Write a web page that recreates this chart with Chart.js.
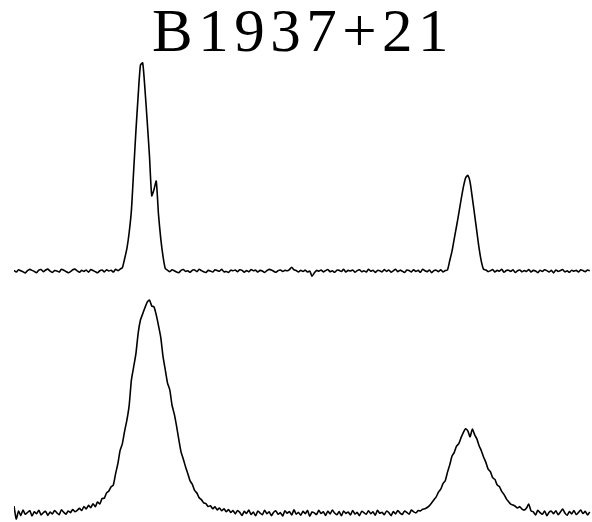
<!DOCTYPE html>
<html>
<head>
<meta charset="utf-8">
<script src="https://cdn.jsdelivr.net/npm/chart.js"></script>
<style>
  html, body { margin: 0; padding: 0; background: #fff; }
  #page { position: relative; width: 592px; height: 522px; overflow: hidden; }
  #title {
    position: absolute; left: 152px; top: 0; white-space: nowrap;
    font-family: "Liberation Serif", "DejaVu Serif", serif;
    font-size: 61px; line-height: 1; letter-spacing: 5.5px; color: #000;
  }
  .panel { position: absolute; left: 14px; width: 578px; }
</style>
</head>
<body>
<div id="page">
  <div id="title">B1937+21</div>
  <div class="panel" style="top:50px;height:230px"><canvas id="topChart" width="578" height="230"></canvas></div>
  <div class="panel" style="top:290px;height:232px"><canvas id="bottomChart" width="578" height="232"></canvas></div>
</div>
<script>
// pulse profiles, 256 phase bins each, peak normalised to ~100
const topProfile = [
  0.3, -0.5, 0.6, 0.1, -0.4, -0.9, 0.2, 0.8, 0.3, -0.2,
  -0.8, 0.4, 0.7, -0.3, 0.5, 0.9, -0.1, -0.7, 0.2, 0.0,
  -0.5, 0.8, 0.4, -0.2, -0.8, -0.3, 0.6, 0.9, 0.1, -0.6,
  0.3, -0.2, 0.5, -0.6, 0.7, 0.2, -0.3, -0.8, 0.1, 0.5,
  -0.4, 0.6, 0.0, 0.4, -0.5, 0.8, 0.2, 0.9,
  1.6, 5.9, 10.7, 18.3, 29, 48, 67, 84, 98.5, 99.5,
  87, 71.5, 55, 36, 39, 43, 27, 15.5, 7, 1.2,
  0.4, -0.3, 0.6, 0.1, -0.5, -0.8, 0.3, 0.7, -0.2, 0.1,
  -0.6, 0.4, 0.5, -0.3, 0.8, 0.2, -0.4, -0.7, 0.3, 0.0,
  -0.5, 0.6, 0.2, -0.1, 0.8, -0.4, -0.2, -0.7, 0.4, 0.1,
  0.5, -0.3, 0.6, 0.3, -0.6, 0.2, -0.4, 0.7, 0.1, 0.4,
  -0.5, 0.3, 0.0, -0.7, 0.2, 0.8, 0.5, -0.1, -0.6, 0.2,
  0.5, -0.2, 0.3, 0.1, 0.7, 1.8, 0.6, 0.2, -0.4, 0.3,
  -0.2, 0.4, -0.5, 0.0, -2.5, -0.9, 0.3, -0.1, 0.5, -0.4,
  0.2, 0.7, -0.3, 0.1, -0.6, 0.4, 0.3, -0.2, 0.8, -0.5,
  0.3, 0.0, 0.5, -0.6, 0.2, 0.6, -0.3, 0.1, -0.5, 0.8,
  -0.1, 0.4, -0.7, 0.3, 0.1, -0.4, 0.7, -0.2, 0.5, -0.6,
  0.1, 0.8, -0.3, 0.4, -0.1, -0.7, 0.5, 0.2, -0.4, 0.6,
  -0.2, 0.3, -0.6, 0.8, 0.1, -0.3, 0.5, -0.8, 0.2, 0.4,
  -0.3, 0.6, -0.4, 0.2,
  0.5, 5, 9.5, 15.5, 21.4, 27.6, 34, 40, 44.5, 45.7,
  42.5, 35, 27, 18.8, 10.8, 4.5, 0.8,
  0.5, -0.3, 0.1, 0.7, -0.5, 0.3, -0.1, 0.8, -0.6, 0.2,
  0.4, -0.2, 0.6, -0.7, 0.1, 0.5, -0.4, 0.2, -0.2, 0.7,
  -0.5, 0.3, 0.0, -0.8, 0.4, -0.2, 0.6, 0.2, -0.5, 0.3,
  -0.9, 0.5, -0.2, 0.2, 0.7, -0.4, 0.1, -0.6, 0.4, -0.1,
  0.3, -0.5, 0.6, 0.2, -0.3, 0.5, 0.1
];

const bottomProfile = [
  3.3, -2.8, 0.9, -1.2, 1.4, -0.6, 0.3, 1.1, -1.4, 0.6,
  -0.3, 1.3, -0.9, 0.2, 0.8, -1.1, 0.5, -0.4, 1.2, 0.1,
  -0.8, 1.5, 0.4, -0.5, 1.0, 0.2, 1.7, 0.6, 1.3,
  2.2, 1.2, 3.1, 1.9, 3.6, 2.5, 4.4, 3.0, 5.2, 4.3,
  6.8, 7.0, 9.5, 10.4, 12.3, 13.2, 18.5, 23.2, 29.4, 32.6,
  38.5, 43.6, 50.4, 62.5, 68.6, 74.8, 84.5, 90.6, 93.5, 96.4,
  99.0, 100, 97.2, 96.8, 93.0, 88.0, 82.5, 73.5, 67.2, 61.0,
  57.8, 50.6, 46.4, 40.8, 34.5, 28.6, 25.3, 21.6, 18.4, 15.1,
  13.5, 10.6, 9.4, 7.2, 6.3, 4.8, 4.4, 3.1, 3.4, 2.0,
  2.9, 1.5, 2.4, 1.1, 2.0, 0.6, 1.6, 0.3, 1.2,
  -0.4, 1.2, 0.3, -1.1, 0.8, -0.2, 1.4, -0.7, 0.5, -1.3,
  0.9, 0.0, -0.8, 1.3, -0.3, 0.6, -1.2, 0.4, 1.0, -0.6,
  0.2, -1.4, 1.1, -0.1, 0.7, -0.9, 1.5, -0.5, 0.3, -1.0,
  0.8, -0.3, 1.2, -1.5, 0.5, 0.1, -0.7, 1.3, -0.2, 0.6,
  -1.1, 0.9, -0.4, 1.4, 0.0, -0.8, 0.7, -1.3, 1.0, -0.2,
  0.5, -0.9, 1.2, -0.5, 0.3, -1.2, 0.8, 0.2, -0.6, 1.1,
  -0.3, 0.6, -1.0, 1.3, -0.1, 0.4, -0.8, 0.9, 0.2, -1.2,
  0.7, -0.4, 1.2, 0.0, -0.7, 1.0, 0.3, -0.5, 1.4, 0.6,
  0.1, 1.2,
  1.0, 1.8, 2.0, 2.6, 3.5, 4.8, 6.2, 7.6, 9.8, 11.2,
  13.8, 15.2, 19.2, 22.6, 26.8, 28.5, 31.4, 32.6, 35.4, 37.8,
  39.6, 38.6, 35.8, 39.4, 36.8, 34.8, 31.6, 29.2, 26.2, 23.8,
  20.6, 19.4, 16.6, 15.8, 13.2, 12.4, 10.2, 8.8, 6.8, 5.4,
  4.2, 3.8, 3.2, 2.4, 3.0, 1.8, 1.4, 2.4, 4.2, 1.0,
  0.6, -0.9, 1.3, 0.2, -0.6, 1.0, -1.2, 0.4, 0.9, -0.3,
  1.1, -0.8, 0.5, 1.9, 0.0, -1.0, 0.7, -0.4, 1.2, -0.7,
  0.3, 1.4, -0.2, 0.8, -0.9, 0.5
];

const nBins = 256;

function profileChart(id, values, yMin, yMax) {
  const ctx = document.getElementById(id).getContext('2d');
  return new Chart(ctx, {
    type: 'line',
    data: {
      datasets: [{
        data: values.map((v, i) => ({ x: i, y: v })),
        borderColor: '#000',
        borderWidth: 1.6,
        pointRadius: 0,
        tension: 0.2,
        fill: false
      }]
    },
    options: {
      responsive: false,
      animation: false,
      layout: { padding: 0 },
      plugins: { legend: { display: false }, tooltip: { enabled: false } },
      scales: {
        x: { type: 'linear', min: 0, max: nBins, display: false },
        y: { min: yMin, max: yMax, display: false }
      }
    }
  });
}

profileChart('topChart', topProfile, -4.3, 105.7);
profileChart('bottomChart', bottomProfile, -4.2, 104.7);
</script>
</body>
</html>
